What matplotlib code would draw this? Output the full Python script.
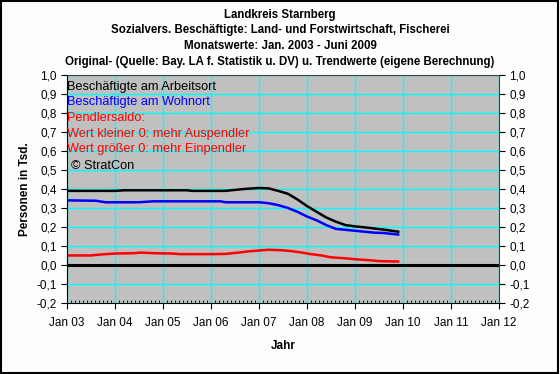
import matplotlib
matplotlib.use("Agg")
import matplotlib.pyplot as plt
from matplotlib.ticker import FixedLocator, MultipleLocator, FuncFormatter
from matplotlib.patches import Rectangle

plt.rcParams['font.family'] = ['Liberation Sans', 'DejaVu Sans']

# --- Data (decimal years, values in thousands) ---
arbeitsort_x = [2003.0, 2003.5, 2004.0, 2004.2, 2004.5, 2005.0, 2005.5, 2005.6, 2006.0, 2006.3,
                2006.5, 2006.7, 2007.0, 2007.2, 2007.4, 2007.6, 2007.8, 2008.0, 2008.2, 2008.4,
                2008.6, 2008.8, 2009.0, 2009.2, 2009.4, 2009.6, 2009.9]
arbeitsort_y = [0.39, 0.39, 0.39, 0.393, 0.393, 0.393, 0.393, 0.39, 0.39, 0.39,
                0.395, 0.40, 0.405, 0.403, 0.39, 0.375, 0.345, 0.31, 0.28, 0.25,
                0.228, 0.21, 0.203, 0.198, 0.192, 0.186, 0.175]

wohnort_x = [2003.0, 2003.6, 2003.8, 2004.5, 2004.8, 2005.5, 2006.2, 2006.3, 2007.0, 2007.2,
             2007.4, 2007.6, 2007.8, 2008.0, 2008.2, 2008.4, 2008.6, 2008.8, 2009.0, 2009.2,
             2009.4, 2009.6, 2009.9]
wohnort_y = [0.34, 0.338, 0.33, 0.33, 0.335, 0.335, 0.335, 0.33, 0.33, 0.325,
             0.315, 0.30, 0.28, 0.255, 0.235, 0.21, 0.19, 0.185, 0.18, 0.175,
             0.17, 0.168, 0.16]

saldo_x = [2003.0, 2003.5, 2003.7, 2004.0, 2004.4, 2004.55, 2004.8, 2005.2, 2005.35, 2006.0,
           2006.3, 2006.6, 2006.8, 2007.0, 2007.2, 2007.5, 2007.7, 2007.9, 2008.05, 2008.3,
           2008.5, 2008.8, 2009.0, 2009.3, 2009.5, 2009.9]
saldo_y = [0.05, 0.05, 0.055, 0.06, 0.062, 0.065, 0.062, 0.06, 0.057, 0.057,
           0.058, 0.066, 0.072, 0.076, 0.08, 0.077, 0.072, 0.065, 0.058, 0.05,
           0.04, 0.035, 0.03, 0.025, 0.02, 0.018]

year_ticks = list(range(2003, 2013))
year_labels = ['Jan %02d' % (y % 100) for y in year_ticks]

titles = ['Landkreis Starnberg',
          'Sozialvers. Beschäftigte: Land- und Forstwirtschaft, Fischerei',
          'Monatswerte: Jan. 2003 - Juni 2009',
          'Original- (Quelle: Bay. LA f. Statistik u. DV) u. Trendwerte (eigene Berechnung)']

legend_lines = [('Beschäftigte am Arbeitsort', 'black'),
                ('Beschäftigte am Wohnort', 'blue'),
                ('Pendlersaldo:', 'red'),
                ('Wert kleiner 0: mehr Auspendler', 'red'),
                ('Wert größer 0: mehr Einpendler', 'red')]

fig = plt.figure(figsize=(5.6, 3.74), dpi=100)
fig.patch.set_facecolor('#fdfdfd')
fig.patches.append(Rectangle((0.002, 0.003), 0.995, 0.994, transform=fig.transFigure,
                             fill=False, edgecolor='black', linewidth=1.5))

ax = fig.add_axes([0.1196, 0.19, 0.7714, 0.6095])
ax.set_facecolor('#c0c0c0')

ax.set_xlim(2003, 2012)
ax.set_ylim(-0.2, 1.0)

ax.grid(True, color='#00ffff', linewidth=1.0)
ax.set_axisbelow(True)

ax.axhline(0, color='black', linewidth=2.2)
ax.plot(arbeitsort_x, arbeitsort_y, color='black', linewidth=1.8)
ax.plot(wohnort_x, wohnort_y, color='blue', linewidth=1.8)
ax.plot(saldo_x, saldo_y, color='red', linewidth=1.8)

ax.xaxis.set_major_locator(FixedLocator(year_ticks))
ax.set_xticklabels(year_labels)
ax.xaxis.set_minor_locator(MultipleLocator(1 / 12))
ax.yaxis.set_major_locator(MultipleLocator(0.1))
ax.yaxis.set_major_formatter(FuncFormatter(lambda v, p: ('%.1f' % v).replace('.', ',').replace('-0,0', '0,0')))

ax.tick_params(axis='x', which='major', direction='out', length=4, labelsize=8.5, pad=6)
ax.tick_params(axis='x', which='minor', direction='in', length=2)
ax.tick_params(axis='y', which='major', direction='out', length=4, labelsize=8.5,
               left=True, right=True, labelleft=True, labelright=True)
for s in ax.spines.values():
    s.set_color('#404040')
ax.spines['bottom'].set_color('black')
ax.spines['left'].set_color('black')

ax.set_xlabel('Jahr', fontsize=8.5, fontweight='bold', labelpad=8)
ax.set_ylabel('Personen in Tsd.', fontsize=8.5, fontweight='bold', labelpad=4)

for i, t in enumerate(titles):
    fig.text(0.5, 1 - (15 + 15.5 * i) / 374, t, ha='center', va='center',
             fontsize=8.3, fontweight='bold')

for i, (txt, col) in enumerate(legend_lines):
    fig.text(67 / 560, 1 - (87 + 15.5 * i) / 374, txt, color=col, fontsize=9.2,
             va='center', ha='left')
fig.text(71 / 560, 1 - 166 / 374, '© StratCon', color='black', fontsize=9.2,
         va='center', ha='left')

fig.savefig('out.png', dpi=100, facecolor=fig.get_facecolor())
